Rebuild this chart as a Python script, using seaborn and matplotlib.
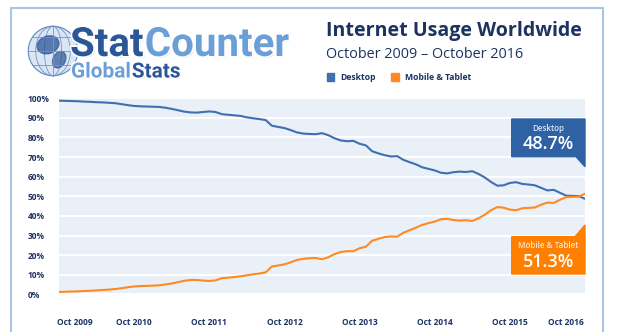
import matplotlib
matplotlib.use("Agg")
import matplotlib.pyplot as plt
import matplotlib.patheffects as pe
from matplotlib.patches import Polygon, Circle, Ellipse
import numpy as np
import pandas as pd
import seaborn as sns

# Monthly share of page views, Oct 2009 .. Oct 2016 (85 months)
desktop = [98.8, 98.7, 98.6, 98.5, 98.3, 98.2, 98.0, 97.9, 97.7, 97.5,
           97.0, 96.5, 96.1, 95.9, 95.8, 95.7, 95.6, 95.2, 94.6, 93.9,
           93.2, 92.8, 92.7, 93.0, 93.3, 93.0, 91.9, 91.6, 91.3, 91.0,
           90.3, 89.8, 89.4, 88.9, 86.0, 85.4, 84.8, 83.8, 82.6, 82.0,
           81.8, 81.7, 82.2, 81.2, 79.6, 78.5, 78.1, 78.3, 76.8, 76.0,
           73.0, 71.9, 71.0, 70.3, 70.5, 68.6, 67.4, 66.3, 64.8, 64.0,
           63.2, 62.0, 61.7, 62.3, 62.6, 62.4, 62.8, 61.4, 59.6, 57.3,
           55.4, 55.6, 56.8, 57.2, 56.3, 56.0, 55.6, 54.3, 53.0, 53.3,
           51.8, 50.3, 50.2, 50.1, 48.7]
mobile = [1.2, 1.3, 1.4, 1.5, 1.7, 1.8, 2.0, 2.2, 2.4, 2.7,
          3.1, 3.6, 4.0, 4.2, 4.3, 4.4, 4.6, 5.0, 5.5, 6.2,
          6.9, 7.3, 7.3, 7.0, 6.8, 7.1, 8.2, 8.5, 8.8, 9.2,
          9.7, 10.2, 10.6, 11.2, 14.2, 14.7, 15.3, 16.3, 17.5, 18.1,
          18.4, 18.5, 17.9, 18.9, 20.5, 21.6, 22.0, 22.0, 23.5, 24.3,
          27.3, 28.3, 29.2, 29.5, 29.4, 31.4, 32.7, 34.0, 35.4, 36.3,
          37.1, 38.3, 38.5, 37.9, 37.6, 37.8, 37.4, 38.8, 40.6, 42.9,
          44.5, 44.2, 43.2, 42.9, 43.9, 44.1, 44.3, 45.7, 46.8, 46.6,
          48.2, 49.6, 49.7, 49.8, 51.3]
series_names = ["Desktop", "Mobile & Tablet"]
x_tick_labels = ["Oct 2009", "Oct 2010", "Oct 2011", "Oct 2012",
                 "Oct 2013", "Oct 2014", "Oct 2015", "Oct 2016"]
x_tick_pos = [2.6, 12, 24, 36, 48, 60, 72, 81]
x_grid_pos = [12, 24, 36, 48, 60, 72]
y_ticks = list(range(0, 101, 10))

BLUE = "#3f6fb1"
ORANGE = "#ff8a1f"
BOX_BLUE = "#2f61a5"
BOX_ORANGE = "#ff7f00"
NAVY = "#1c3360"
FRAME = "#a9c6e8"

sns.set_style("white")
plt.rcParams["font.family"] = ["Open Sans", "DejaVu Sans"]

W, H = 628, 332
fig = plt.figure(figsize=(W / 100, H / 100), dpi=100)
fig.patch.set_facecolor("white")


def fx(x):
    return x / W


def fy(y):
    return 1 - y / H


# outer frame
for xs, ys in [([11, 11], [8, 332]), ([11, 603], [8, 8]), ([603, 603], [8, 332])]:
    fig.add_artist(plt.Line2D([fx(v) for v in xs], [fy(v) for v in ys],
                              color=FRAME, lw=1.5))

# main chart
ax = fig.add_axes([fx(59), fy(294.3), fx(585) - fx(59), fy(98.3) - fy(294.3)])
ax.set_facecolor("#eaf0f8")

df = pd.DataFrame({"month": np.arange(len(desktop)),
                   series_names[0]: desktop,
                   series_names[1]: mobile})
long = df.melt(id_vars="month", var_name="platform", value_name="share")
sns.lineplot(data=long, x="month", y="share", hue="platform",
             palette={series_names[0]: BLUE, series_names[1]: ORANGE},
             linewidth=1.5, legend=False, ax=ax)

ax.set_xlim(0, len(desktop) - 1)
ax.set_ylim(0, 100)
ax.set_xlabel("")
ax.set_ylabel("")
for s in ax.spines.values():
    s.set_visible(False)

ax.set_xticks(x_tick_pos)
ax.set_xticklabels(x_tick_labels, fontsize=6, fontweight="bold", color=NAVY)
ax.set_xticks(x_grid_pos, minor=True)
ax.set_yticks(y_ticks)
ax.set_yticklabels([f"{v}%" for v in y_ticks], fontsize=6, fontweight="bold",
                   color=NAVY, ha="left")
ax.tick_params(axis="x", which="both", length=0, pad=17)
ax.tick_params(axis="y", length=0, pad=22.5)
ax.grid(False)
ax.grid(True, axis="y", which="major", color="white", lw=1.4)
ax.grid(True, axis="x", which="minor", color="white", lw=1.4)
ax.set_axisbelow(True)

# callouts with the latest values
desk_box = Polygon([(fx(511.7), fy(119)), (fx(585), fy(119)), (fx(585), fy(166.7)),
                    (fx(576), fy(156.7)), (fx(511.7), fy(156.7))],
                   closed=True, transform=fig.transFigure, color=BOX_BLUE, zorder=5)
mob_box = Polygon([(fx(511.7), fy(236.7)), (fx(575), fy(236.7)), (fx(585), fy(225)),
                   (fx(585), fy(274)), (fx(511.7), fy(274))],
                  closed=True, transform=fig.transFigure, color=BOX_ORANGE, zorder=5)
fig.add_artist(desk_box)
fig.add_artist(mob_box)
fig.text(fx(548.5), fy(128.3), series_names[0], ha="center", va="center",
         fontsize=5.8, fontweight="semibold", color="#dce6f4", zorder=6)
fig.text(fx(548.5), fy(143.5), f"{desktop[-1]:.1f}%", ha="center", va="center",
         fontsize=13, fontweight="semibold", color="white", zorder=6)
fig.text(fx(548.5), fy(246), series_names[1], ha="center", va="center",
         fontsize=5.8, fontweight="semibold", color="#ffe6cc", zorder=6)
fig.text(fx(548.5), fy(261.7), f"{mobile[-1]:.1f}%", ha="center", va="center",
         fontsize=13, fontweight="semibold", color="white", zorder=6)

# heading
fig.text(fx(326), fy(31), "Internet Usage Worldwide", ha="left", va="center",
         fontsize=14.1, fontweight="bold", color=NAVY)
fig.text(fx(326), fy(55), "October 2009 \u2013 October 2016", ha="left", va="center",
         fontsize=10.4, color=NAVY)

# legend
for x0, name, col in [(326.7, series_names[0], BLUE), (391, series_names[1], ORANGE)]:
    fig.add_artist(plt.Rectangle((fx(x0), fy(81)), fx(7.7), 7.7 / H,
                                 transform=fig.transFigure, color=col))
    fig.text(fx(x0 + 14), fy(77.2), name, ha="left", va="center",
             fontsize=6.2, fontweight="bold", color=NAVY)

# globe mark
gax = fig.add_axes([fx(27), fy(77), fx(52), 52 / H])
gax.set_xlim(-1.05, 1.05)
gax.set_ylim(-1.05, 1.05)
gax.set_aspect("equal")
gax.axis("off")
gax.add_patch(Circle((0, 0), 1, facecolor="#dbe6f4", edgecolor="#5b86c0", lw=0.8))
for w in [0.35, 0.7]:
    gax.add_patch(Ellipse((0, 0), 2 * w, 2, fill=False, edgecolor="#6f96cb", lw=0.6))
gax.plot([0, 0], [-1, 1], color="#6f96cb", lw=0.6)
for yy in [-0.55, 0, 0.55]:
    half = np.sqrt(1 - yy ** 2)
    gax.plot([-half, half], [yy, yy], color="#6f96cb", lw=0.6)
gax.add_patch(Ellipse((-0.2, 0.25), 0.9, 0.7, angle=20, color="#2c5595", alpha=0.75))
gax.add_patch(Ellipse((0.25, -0.35), 0.5, 0.7, angle=-25, color="#2c5595", alpha=0.7))

# wordmark
outline = [pe.SimplePatchShadow(offset=(1, -1), alpha=0.35),
           pe.Stroke(linewidth=2.5, foreground="white"), pe.Normal()]
t1 = fig.text(fx(70), fy(56), "Stat", ha="left", va="baseline", fontsize=29,
              fontweight="bold", color="#2b5797", path_effects=outline,
              family="Roboto")
t2 = fig.text(0, 0, "Counter", ha="left", va="baseline", fontsize=29,
              fontweight="bold", color="#6b9fd8", path_effects=outline,
              family="Roboto")
fig.canvas.draw()
bb = t1.get_window_extent()
t2.set_position((bb.x1 / W + 0.002, fy(56)))
t3 = fig.text(fx(71), fy(77.5), "Global", ha="left", va="baseline", fontsize=15,
              fontweight="bold", color="#6b9fd8", path_effects=outline,
              family="Roboto")
t4 = fig.text(0, 0, "Stats", ha="left", va="baseline", fontsize=15,
              fontweight="bold", color="#2b5797", path_effects=outline,
              family="Roboto")
fig.canvas.draw()
bb = t3.get_window_extent()
t4.set_position((bb.x1 / W + 0.001, fy(77.5)))

fig.savefig("out.png", dpi=100, facecolor="white")
